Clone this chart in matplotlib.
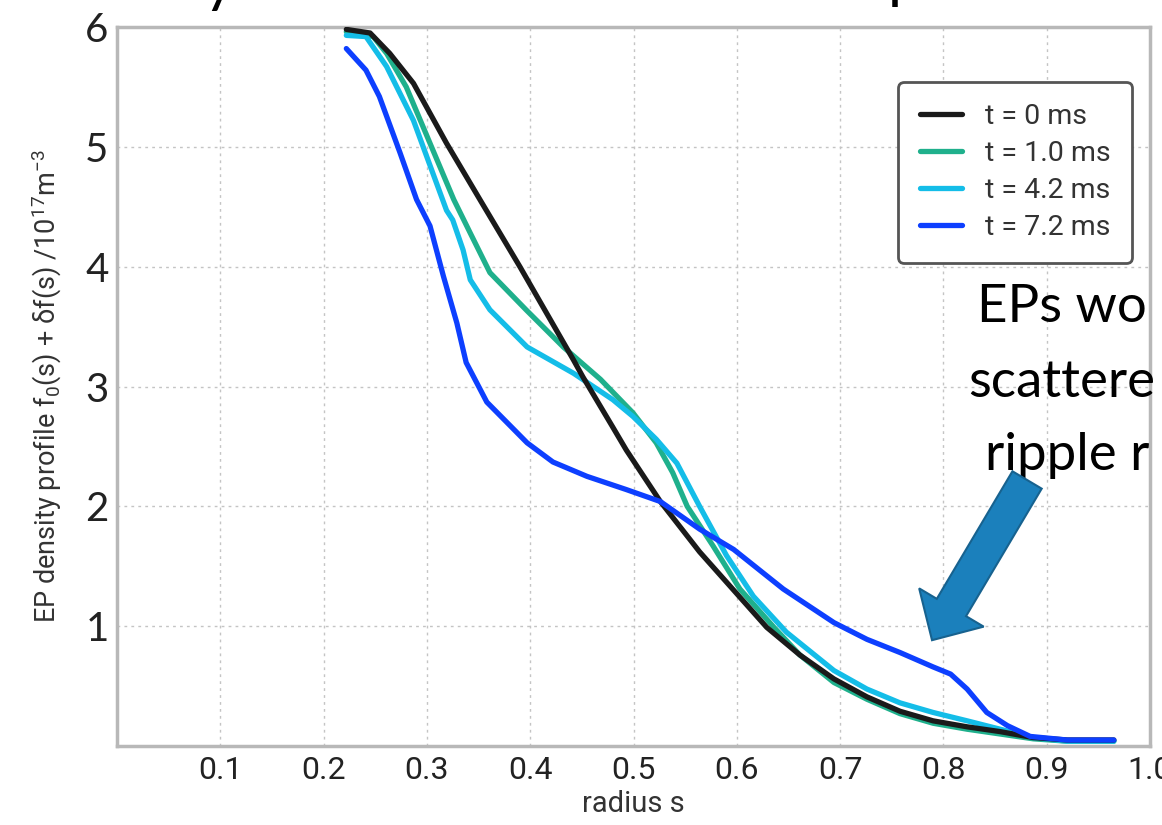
import matplotlib
matplotlib.use('Agg')
import matplotlib.pyplot as plt
from matplotlib.patches import FancyArrow
from matplotlib.transforms import IdentityTransform

# profile data (radius s, density / 1e17 m^-3)
s_t0 = [0.222, 0.245, 0.264, 0.287, 0.319, 0.352, 0.390, 0.416, 0.442, 0.451, 0.480, 0.493,
        0.526, 0.564, 0.597, 0.629, 0.661, 0.694, 0.726, 0.758, 0.790, 0.823, 0.855, 0.887,
        0.920, 0.965]
f_t0 = [5.98, 5.95, 5.78, 5.53, 5.03, 4.55, 4.00, 3.61, 3.22, 3.08, 2.66, 2.47,
        2.04, 1.62, 1.30, 0.99, 0.76, 0.56, 0.41, 0.29, 0.21, 0.16, 0.12, 0.07,
        0.05, 0.05]

s_t1 = [0.222, 0.248, 0.261, 0.280, 0.303, 0.326, 0.342, 0.361, 0.396, 0.432, 0.468, 0.4995,
        0.522, 0.538, 0.552, 0.577, 0.603, 0.636, 0.661, 0.694, 0.726, 0.758, 0.790, 0.823,
        0.855, 0.887, 0.920, 0.965]
f_t1 = [5.96, 5.92, 5.78, 5.50, 5.03, 4.56, 4.28, 3.95, 3.64, 3.33, 3.06, 2.78,
        2.53, 2.28, 2.00, 1.67, 1.31, 0.99, 0.76, 0.53, 0.39, 0.27, 0.19, 0.14,
        0.10, 0.06, 0.04, 0.04]

s_t4 = [0.222, 0.241, 0.261, 0.287, 0.319, 0.325, 0.335, 0.342, 0.361, 0.397, 0.442, 0.480,
        0.4995, 0.522, 0.542, 0.564, 0.590, 0.616, 0.648, 0.694, 0.726, 0.758, 0.790, 0.823,
        0.855, 0.887, 0.920, 0.965]
f_t4 = [5.93, 5.92, 5.67, 5.22, 4.47, 4.39, 4.14, 3.89, 3.64, 3.33, 3.11, 2.89,
        2.75, 2.56, 2.36, 2.00, 1.59, 1.25, 0.95, 0.63, 0.475, 0.36, 0.28, 0.21,
        0.14, 0.07, 0.04, 0.04]

s_t7 = [0.222, 0.241, 0.254, 0.274, 0.290, 0.303, 0.316, 0.329, 0.338, 0.358, 0.397, 0.422,
        0.455, 0.493, 0.526, 0.564, 0.597, 0.645, 0.694, 0.726, 0.758, 0.790, 0.807, 0.823,
        0.842, 0.862, 0.884, 0.920, 0.965]
f_t7 = [5.82, 5.64, 5.42, 4.95, 4.56, 4.34, 3.92, 3.53, 3.20, 2.87, 2.53, 2.37,
        2.25, 2.14, 2.04, 1.81, 1.64, 1.31, 1.03, 0.89, 0.78, 0.66, 0.60, 0.475,
        0.28, 0.17, 0.08, 0.05, 0.05]

labels = ['t = 0 ms', 't = 1.0 ms', 't = 4.2 ms', 't = 7.2 ms']
colors = ['#1a1a1a', '#1fb08c', '#14bde8', '#0d3fff']
x_ticks = [0.1, 0.2, 0.3, 0.4, 0.5, 0.6, 0.7, 0.8, 0.9, 1.0]
x_ticklabels = ['0.1', '0.2', '0.3', '0.4', '0.5', '0.6', '0.7', '0.8', '0.9', '1.0']
y_ticks = [1, 2, 3, 4, 5, 6]
note_lines = ['EPs wo', 'scattere', 'ripple r']

narrow = ['Roboto', 'DejaVu Sans']
slide = ['Lato', 'DejaVu Sans']
plt.rcParams['mathtext.fontset'] = 'custom'
plt.rcParams['mathtext.rm'] = 'Roboto'
plt.rcParams['mathtext.it'] = 'Roboto'

fig = plt.figure(figsize=(11.62, 8.25), dpi=100)
ax = fig.add_axes([117 / 1162, 79 / 825, 1033 / 1162, 719 / 825])

lines = {}
for s, f, lab, c, z in zip([s_t0, s_t1, s_t4, s_t7], [f_t0, f_t1, f_t4, f_t7],
                           labels, colors, [4, 2, 3, 5]):
    lines[lab], = ax.plot(s, f, color=c, lw=3.8, label=lab, zorder=z,
                          solid_capstyle='round', solid_joinstyle='round')

ax.set_xlim(0, 1.0)
ax.set_ylim(0, 6)
ax.set_xticks(x_ticks)
ax.set_xticklabels(x_ticklabels, family=narrow, fontsize=23)
ax.set_yticks(y_ticks)
ax.set_yticklabels([str(v) for v in y_ticks], family=slide, fontsize=29)
ax.tick_params(axis='x', length=0, pad=7, colors='#222222')
ax.tick_params(axis='y', length=0, pad=6, colors='#222222')
ax.grid(True, color='#c4c4c4', lw=1.0, linestyle=(0, (2, 3)))
for sp in ax.spines.values():
    sp.set_color('#b8b8b8')
    sp.set_linewidth(2.5)

ax.set_xlabel('radius s', family=narrow, fontsize=21, color='#333333', labelpad=4)
ax.set_ylabel(r'EP density profile f$_0$(s) + δf(s) /10$^{17}$m$^{-3}$',
              family=narrow, fontsize=19.5, color='#333333', labelpad=15)

leg = ax.legend(handles=[lines[l] for l in labels], loc='upper right',
                bbox_to_anchor=(0.9826, 0.9235), borderaxespad=0, fancybox=True,
                framealpha=1, edgecolor='#555555', prop={'family': narrow, 'size': 20.5},
                handlelength=1.5, handletextpad=0.8, labelspacing=0.35, borderpad=0.75)
leg.get_frame().set_linewidth(2)
for t in leg.get_texts():
    t.set_color('#333333')

# slide text around the chart (cut at the figure edges)
fig.text(977 / 1162, (825 - 322) / 825, note_lines[0], family=slide, fontsize=38, va='baseline')
fig.text(968 / 1162, (825 - 397) / 825, note_lines[1], family=slide, fontsize=38, va='baseline')
fig.text(985 / 1162, (825 - 470) / 825, note_lines[2], family=slide, fontsize=38, va='baseline')
fig.text(203 / 1162, 1.0, 'y', family=slide, fontsize=44, va='baseline')
fig.text(888 / 1162, 1.005, 'p', family=slide, fontsize=44, va='baseline')

# big block arrow pointing at the ripple-scattered tail of the t = 7.2 ms profile
tail = ax.transData.transform((0.881, 2.22))
tip = ax.transData.transform((0.789, 0.883))
arrow = FancyArrow(tail[0], tail[1], tip[0] - tail[0], tip[1] - tail[1], width=34,
                   head_width=75, head_length=38, length_includes_head=True,
                   facecolor='#1b80bc', edgecolor='#17628f', lw=1.5,
                   transform=IdentityTransform(), zorder=10)
fig.patches.append(arrow)

fig.savefig('out.png', dpi=100)
